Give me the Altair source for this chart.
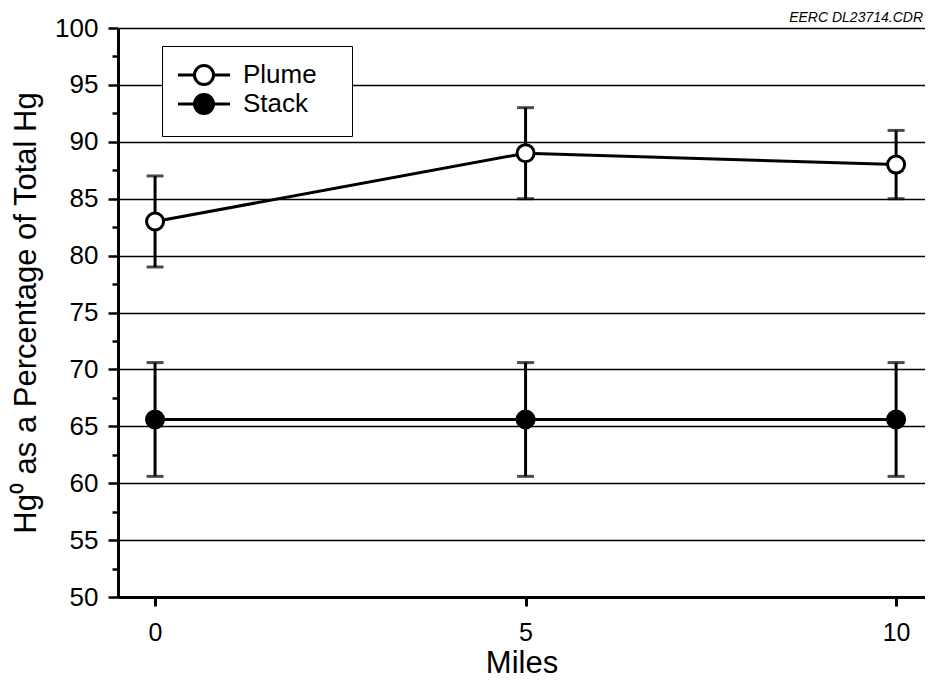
import altair as alt
import pandas as pd

miles = [0, 5, 10]
plume = [83.0, 89.0, 88.0]
plume_lo = [79.0, 85.0, 85.0]
plume_hi = [87.0, 93.0, 91.0]
stack = [65.6, 65.6, 65.6]
stack_lo = [60.6, 60.6, 60.6]
stack_hi = [70.6, 70.6, 70.6]
series_names = ["Plume", "Stack"]
y_major = [50, 55, 60, 65, 70, 75, 80, 85, 90, 95, 100]
y_minor = [52.5, 57.5, 62.5, 67.5, 72.5, 77.5, 82.5, 87.5, 92.5, 97.5]
x_ticks = [0, 5, 10]

rows = []
for m, v, lo, hi in zip(miles, plume, plume_lo, plume_hi):
    rows.append({"miles": m, "series": "Plume", "value": v, "lo": lo, "hi": hi})
for m, v, lo, hi in zip(miles, stack, stack_lo, stack_hi):
    rows.append({"miles": m, "series": "Stack", "value": v, "lo": lo, "hi": hi})
df = pd.DataFrame(rows)

FONT = "Liberation Sans"

xscale = alt.Scale(domain=[-0.5, 10.39], nice=False, zero=False)
yscale = alt.Scale(domain=[50, 100], nice=False, zero=False)

xenc = alt.X("miles:Q", scale=xscale, title="Miles",
             axis=alt.Axis(values=x_ticks, format="d", grid=False, tickSize=9, tickWidth=3,
                           domainWidth=3, domainColor="black", tickColor="black",
                           labelFontSize=25, labelFont=FONT, labelColor="black",
                           labelPadding=14, titleFontSize=31, titleFont=FONT,
                           titleFontWeight="normal", titleColor="black", titlePadding=3))
yaxis = alt.Axis(values=y_major, orient="left",
                 grid=True, gridColor="black", gridWidth=1.5,
                 tickSize=10, tickWidth=2.5, tickColor="black",
                 domainWidth=3, domainColor="black",
                 labelFontSize=26, labelFont=FONT, labelColor="black", labelPadding=10,
                 titleFontSize=31, titleFont=FONT, titleFontWeight="normal",
                 titleColor="black", titlePadding=12)
yaxis_minor = alt.Axis(values=y_minor, orient="left", labels=False, domain=False,
                       grid=False, tickSize=6, tickWidth=2.5, tickColor="black",
                       title=None)

sym = ("M-2.74,0H-1M1,0H2.74M-1,0C-1,-0.5523,-0.5523,-1,0,-1C0.5523,-1,1,-0.5523,1,0"
       "C1,0.5523,0.5523,1,0,1C-0.5523,1,-1,0.5523,-1,0Z")

legend_kw = dict(title=None, orient="none", legendX=44, legendY=18,
                 symbolType=sym, symbolSize=361, symbolOffset=13,
                 symbolStrokeColor="black", symbolStrokeWidth=3,
                 labelFontSize=26, labelFont=FONT, labelColor="black",
                 labelExpr="datum.label + '\u2800'",
                 labelOffset=26, padding=16, rowPadding=-3,
                 fillColor="white", strokeColor="black")


def build(extra):
    base = alt.Chart(df)
    minor = base.mark_point(opacity=0).encode(
        x="miles:Q",
        y=alt.Y("value:Q", scale=yscale, axis=yaxis_minor),
    )
    line = base.mark_line(color="black", strokeWidth=3).encode(
        x=xenc,
        y=alt.Y("value:Q", scale=yscale, axis=yaxis,
                title="Hg\u2070 as a Percentage of Total Hg"),
        detail="series:N",
    )
    rule = base.mark_rule(color="black", strokeWidth=3).encode(
        x="miles:Q", y=alt.Y("lo:Q", axis=None), y2="hi:Q"
    )
    tick_lo = base.mark_tick(color="black", thickness=3, size=17, orient="horizontal").encode(
        x="miles:Q", y=alt.Y("lo:Q", axis=None)
    )
    tick_hi = base.mark_tick(color="black", thickness=3, size=17, orient="horizontal").encode(
        x="miles:Q", y=alt.Y("hi:Q", axis=None)
    )
    points = base.mark_point(filled=False, size=290, stroke="black", strokeWidth=3,
                             opacity=1, fillOpacity=1, shape="circle").encode(
        x="miles:Q", y=alt.Y("value:Q", axis=None),
        fill=alt.Fill("series:N",
                      scale=alt.Scale(domain=series_names, range=["white", "black"]),
                      legend=alt.Legend(**legend_kw, **extra)),
    )
    return alt.layer(minor, line, rule, tick_lo, tick_hi, points).resolve_axis(
        y="independent"
    ).properties(
        width=807, height=569,
        autosize=alt.AutoSizeParams(type="none"),
        padding={"left": 110, "top": 20, "right": 0, "bottom": 82},
        title=alt.TitleParams("EERC DL23714.CDR", anchor="end", fontSize=14,
                              fontStyle="italic", font=FONT, fontWeight="normal",
                              color="black", offset=-10, dx=-2),
    ).configure_view(
        fill="#fafafa", stroke="black", strokeWidth=2
    ).configure_legend(
        strokeWidth=3
    ).configure(background="white")


try:
    chart = build({"strokeWidth": 3})
    chart.to_dict()
except Exception:
    chart = build({})

chart.save("out.html", embed_options={"renderer": "svg", "actions": False})
